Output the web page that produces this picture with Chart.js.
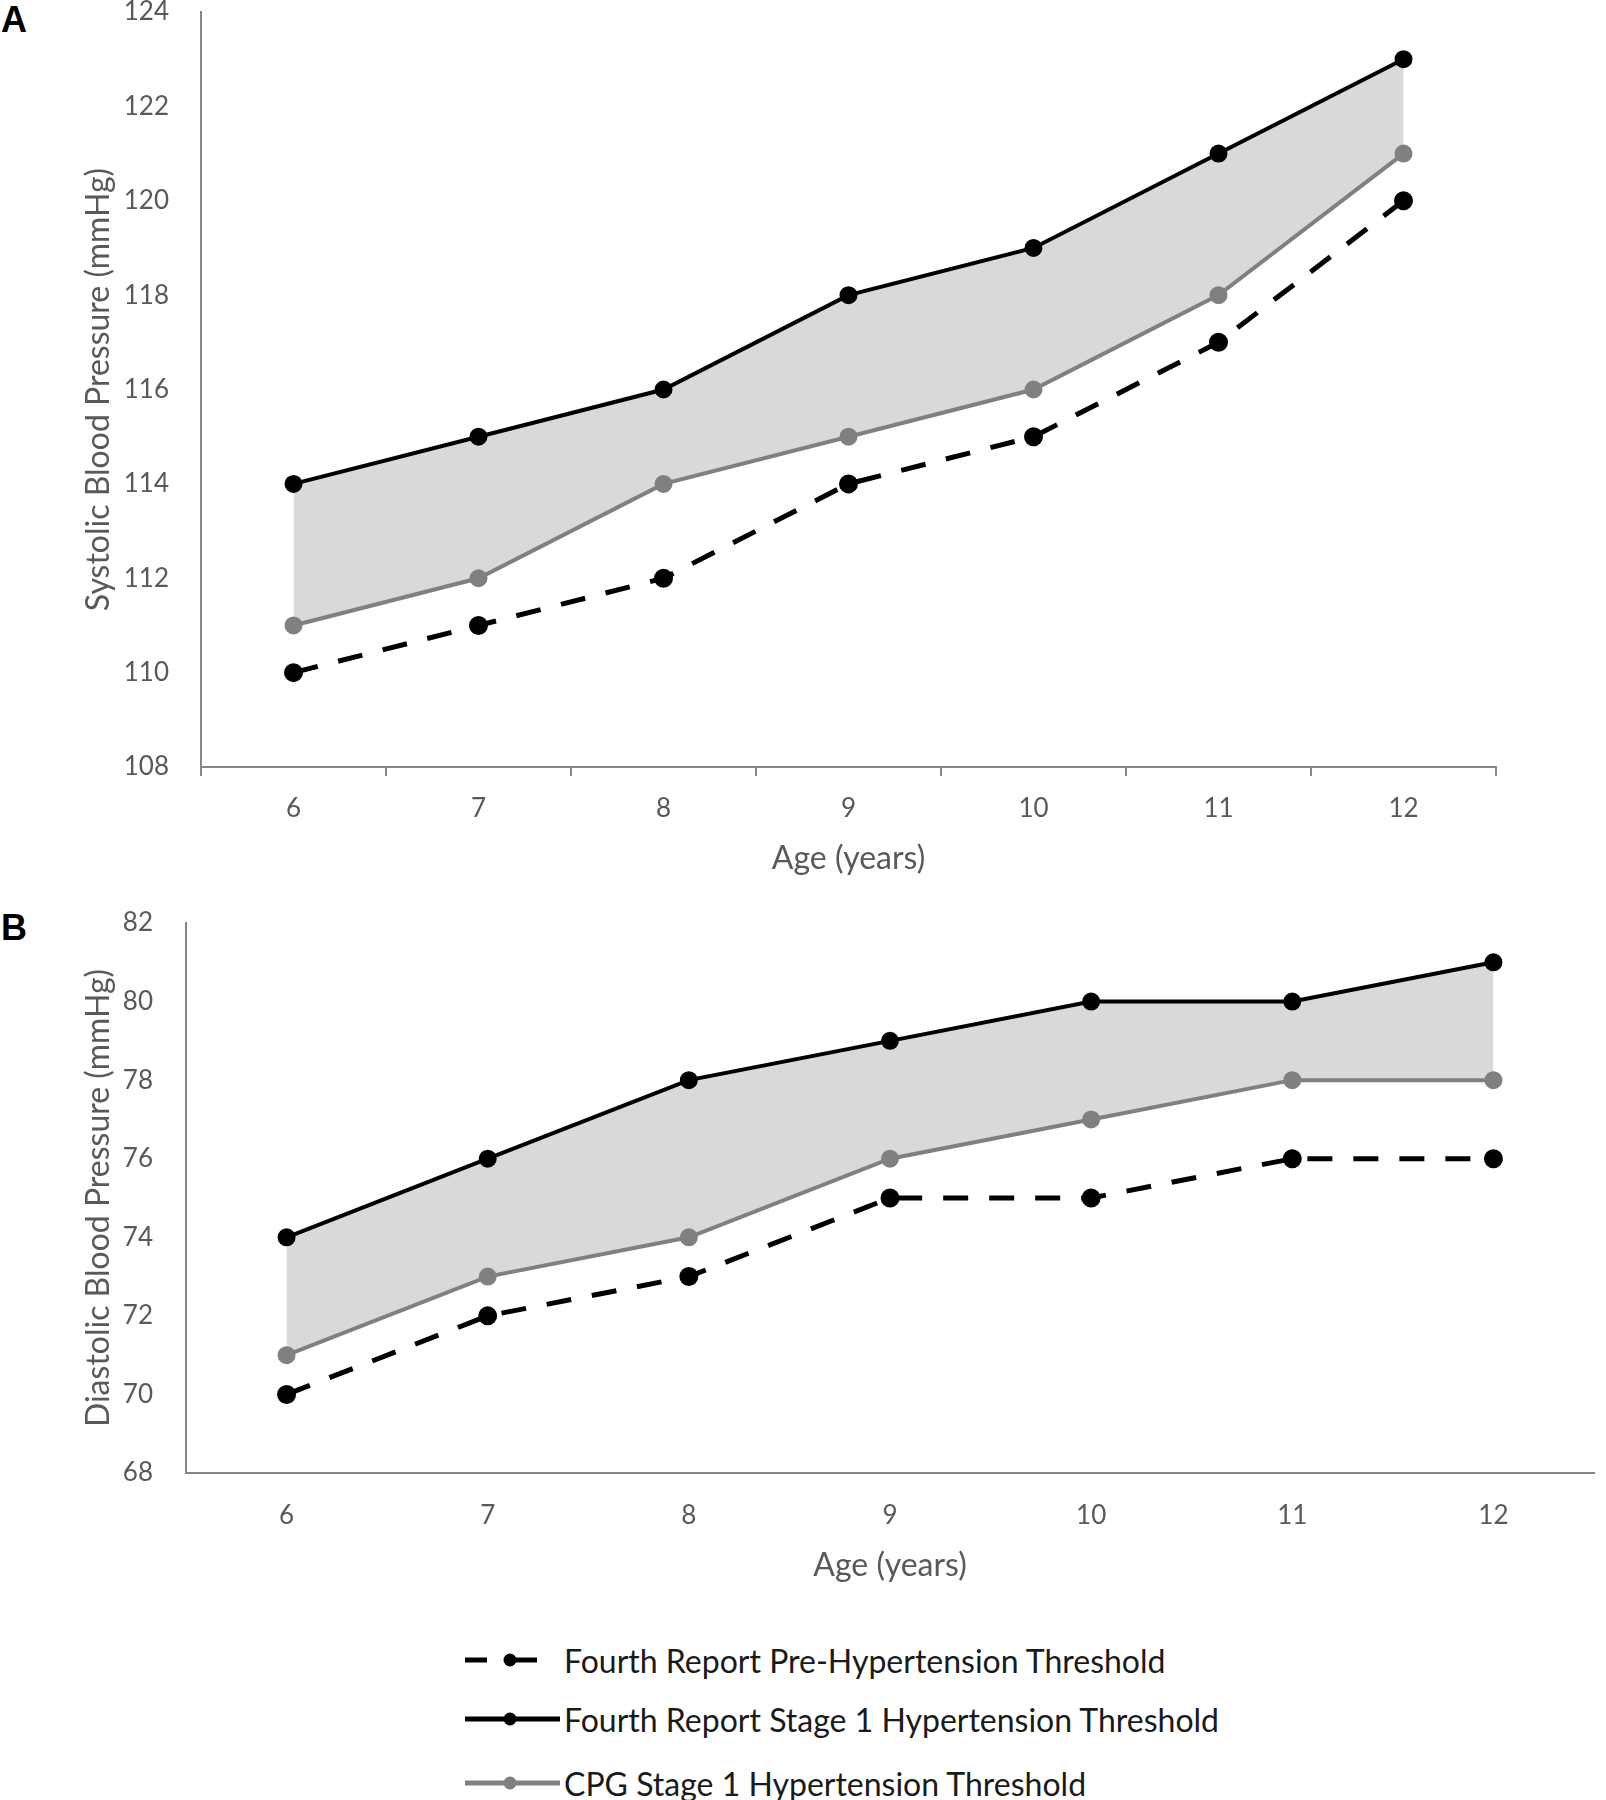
<!DOCTYPE html>
<html>
<head>
<meta charset="utf-8">
<script src="https://cdn.jsdelivr.net/npm/chart.js@4.4.1/dist/chart.umd.min.js"></script>
<style>
  body { margin: 0; background: #fff; }
  #page { position: relative; width: 1606px; height: 1800px; overflow: hidden; font-family: Lato, sans-serif; }
  .panel { position: absolute; left: 0; }
  .panel-label { position: absolute; left: 1px; font-family: "Liberation Sans", Arial, sans-serif; font-weight: bold; font-size: 36px; line-height: 1; color: #000; }
  .legend-row { position: absolute; left: 465px; height: 40px; display: flex; align-items: center; }
  .legend-row svg { flex: none; }
  .legend-row span { position: absolute; left: 99px; white-space: nowrap; font-size: 32px; color: #1a1a1a; }
</style>
</head>
<body>
<div id="page">
  <div class="panel-label" style="top:2px">A</div>
  <canvas id="chart-a" class="panel" style="top:0px" width="1606" height="880"></canvas>

  <div class="panel-label" style="top:910px">B</div>
  <canvas id="chart-b" class="panel" style="top:900px" width="1606" height="700"></canvas>

  <div class="legend-row" style="top:1640px">
    <svg width="95" height="20"><line x1="0" y1="10" x2="22" y2="10" stroke="#000" stroke-width="5"/><line x1="50" y1="10" x2="72" y2="10" stroke="#000" stroke-width="5"/><circle cx="45" cy="10" r="6.5" fill="#000"/></svg>
    <span>Fourth Report Pre-Hypertension Threshold</span>
  </div>
  <div class="legend-row" style="top:1699px">
    <svg width="95" height="20"><line x1="0" y1="10" x2="95" y2="10" stroke="#000" stroke-width="5"/><circle cx="45" cy="10" r="6.5" fill="#000"/></svg>
    <span>Fourth Report Stage 1 Hypertension Threshold</span>
  </div>
  <div class="legend-row" style="top:1763px">
    <svg width="95" height="20"><line x1="0" y1="10" x2="95" y2="10" stroke="#808080" stroke-width="5"/><circle cx="45" cy="10" r="6.5" fill="#808080"/></svg>
    <span>CPG Stage 1 Hypertension Threshold</span>
  </div>
</div>

<script>
'use strict';

// Data
const ages = ['6', '7', '8', '9', '10', '11', '12'];

const systolicPre = [110, 111, 112, 114, 115, 117, 120];
const systolicStage1 = [114, 115, 116, 118, 119, 121, 123];
const systolicCpg = [111, 112, 114, 115, 116, 118, 121];
const systolicTicks = [108, 110, 112, 114, 116, 118, 120, 122, 124];

const diastolicPre = [70, 72, 73, 75, 75, 76, 76];
const diastolicStage1 = [74, 76, 78, 79, 80, 80, 81];
const diastolicCpg = [71, 73, 74, 76, 77, 78, 78];
const diastolicTicks = [68, 70, 72, 74, 76, 78, 80, 82];

const axisGrey = '#868686';
const labelGrey = '#595959';

// Build one panel
const makeChart = (canvasId, pre, stage1, cpg, yTicks, yTitle, box) => {
  const ctx = document.querySelector(canvasId).getContext('2d');

  return new Chart(ctx, {
    type: 'line',
    data: {
      labels: ages,
      datasets: [{
        label: 'Fourth Report Stage 1 Hypertension Threshold',
        data: stage1,
        borderColor: '#000',
        backgroundColor: '#d9d9d9',
        pointBackgroundColor: '#000',
        pointBorderColor: '#000',
        borderWidth: 4,
        pointRadius: 7,
        fill: '+1',
      }, {
        label: 'CPG Stage 1 Hypertension Threshold',
        data: cpg,
        borderColor: '#808080',
        pointBackgroundColor: '#808080',
        pointBorderColor: '#808080',
        borderWidth: 4,
        pointRadius: 7,
        fill: false,
      }, {
        label: 'Fourth Report Pre-Hypertension Threshold',
        data: pre,
        borderColor: '#000',
        pointBackgroundColor: '#000',
        pointBorderColor: '#000',
        borderWidth: 5,
        borderDash: [25, 21],
        pointRadius: 7,
        fill: false,
      }],
    },
    options: {
      responsive: false,
      animation: false,
      layout: {
        padding: { left: 0, right: box.padRight, top: box.padTop, bottom: 0 }
      },
      plugins: {
        legend: { display: false },
        tooltip: { enabled: false },
        filler: { drawTime: 'beforeDatasetsDraw' }
      },
      scales: {
        x: {
          offset: true,
          grid: {
            display: box.xTicks,
            offset: true,
            drawOnChartArea: false,
            drawTicks: box.xTicks,
            tickLength: 9,
            lineWidth: 2,
            color: axisGrey
          },
          border: { color: axisGrey, width: 2 },
          ticks: {
            color: labelGrey,
            font: { family: 'Lato', size: 26 },
            padding: box.xPad,
            maxRotation: 0
          },
          title: {
            display: true,
            text: 'Age (years)',
            color: labelGrey,
            font: { family: 'Lato', size: 32 },
            padding: { top: 0, bottom: box.titlePad }
          },
          afterFit: (scale) => { scale.height = box.xHeight; }
        },
        y: {
          min: yTicks[0],
          max: yTicks[yTicks.length - 1],
          afterBuildTicks: (scale) => { scale.ticks = yTicks.map(v => ({ value: v })); },
          grid: { display: false, drawTicks: false },
          border: { color: axisGrey, width: 2 },
          ticks: {
            color: labelGrey,
            font: { family: 'Lato', size: 26 },
            padding: box.yPad
          },
          title: {
            display: true,
            text: yTitle,
            color: labelGrey,
            font: { family: 'Lato', size: 32 },
            padding: { top: 79, bottom: 0 }
          },
          afterFit: (scale) => {
            scale.width = box.yWidth;
            // keep the tick padding from pushing the plot area down
            scale.paddingTop = 0;
            scale.paddingBottom = 0;
          }
        }
      }
    }
  });
};

makeChart('#chart-a', systolicPre, systolicStage1, systolicCpg, systolicTicks,
  'Systolic Blood Pressure (mmHg)',
  { padRight: 110, padTop: 12, xTicks: true, xPad: 17, xHeight: 113, titlePad: 2, yWidth: 201, yPad: 32 });

makeChart('#chart-b', diastolicPre, diastolicStage1, diastolicCpg, diastolicTicks,
  'Diastolic Blood Pressure (mmHg)',
  { padRight: 3, padTop: 23, xTicks: false, xPad: 27, xHeight: 127, titlePad: 15, yWidth: 186, yPad: 33 });
</script>
</body>
</html>
